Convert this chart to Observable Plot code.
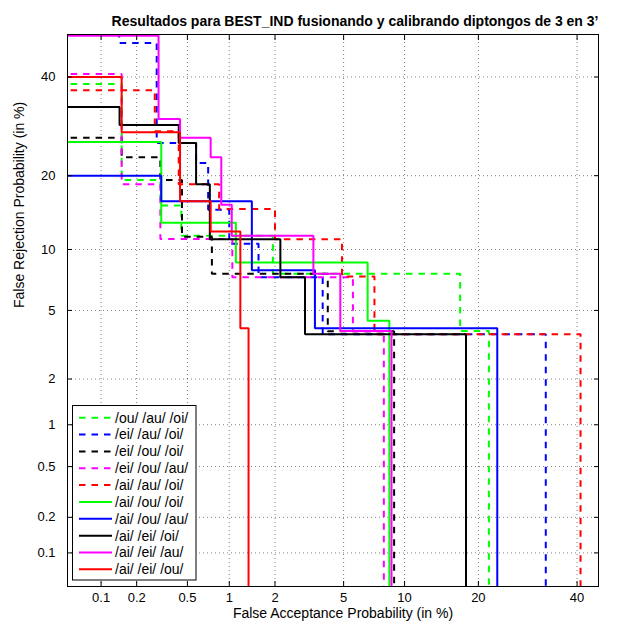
<!DOCTYPE html>
<html>
<head>
<meta charset="utf-8">
<script src="https://cdn.jsdelivr.net/npm/d3@7"></script>
<script src="https://cdn.jsdelivr.net/npm/@observablehq/plot@0.6"></script>
<style>
  html, body { margin: 0; padding: 0; background: #fff; }
  #chart { width: 618px; height: 621px; }
</style>
</head>
<body>
<div id="chart"></div>
<script>
// DET curves: false acceptance (%) vs false rejection (%) on normal-deviate axes.
// Each curve is a list of operating points; the curve steps right then down.
// Values of 0.01 % stand for points beyond the plotted range (clipped).

const names = [
  "/ou/ /au/ /oi/", "/ei/ /au/ /oi/", "/ei/ /ou/ /oi/", "/ei/ /ou/ /au/", "/ai/ /au/ /oi/",
  "/ai/ /ou/ /oi/", "/ai/ /ou/ /au/", "/ai/ /ei/ /oi/", "/ai/ /ei/ /au/", "/ai/ /ei/ /ou/"
];
const colors = ["#00ff00", "#0000ff", "#000000", "#ff00ff", "#ff0000",
                "#00ff00", "#0000ff", "#000000", "#ff00ff", "#ff0000"];
const dashed = [true, true, true, true, true, false, false, false, false, false];

const faOuAuOi   = [0.01, 0.15, 0.31, 0.45, 1.94, 17.1, 21.8];
const missOuAuOi = [38.4, 19.3, 15.4, 11.5, 7.7, 3.86, 0.01];

const faEiAuOi   = [0.01, 0.143, 0.29, 0.58, 0.71, 1.0, 1.57, 3.84, 33];
const missEiAuOi = [60, 48, 25.9, 22.2, 14.8, 10.6, 7.4, 3.7, 0.01];

const faEiOuOi   = [0.01, 0.15, 0.31, 0.455, 0.755, 4.1, 8.95];
const missEiOuOi = [26.9, 23.2, 19.3, 11.4, 7.7, 3.85, 0.01];

const faEiOuAu   = [0.01, 0.15, 0.31, 1.05, 5.6, 8.0];
const missEiOuAu = [40.7, 18.6, 11.15, 7.4, 3.85, 0.01];

const faAiAuOi   = [0.01, 0.28, 0.43, 0.85, 2.0, 4.9, 7.2, 40.8];
const missAiAuOi = [37, 28.2, 18.6, 14.9, 11.1, 7.45, 3.7, 0.01];

const faAiOuOi   = [0.01, 0.315, 1.11, 6.66, 8.5];
const missAiOuOi = [26.1, 13.1, 8.7, 4.4, 0.01];

const faAiOuAu   = [0.01, 0.315, 1.42, 3.47, 23.3];
const missAiOuAu = [20, 16, 8, 4, 0.01];

const faAiEiOi   = [0.01, 0.144, 0.43, 0.58, 0.73, 2.16, 3.04, 18];
const missAiEiOi = [33.3, 29.5, 25.9, 18.6, 11.1, 7.4, 3.7, 0.01];

const faAiEiAu   = [0.01, 0.3, 0.44, 0.74, 0.88, 1.04, 3.4, 4.8, 8.7];
const missAiEiAu = [49.7, 30.7, 26.9, 23.2, 15.5, 11.5, 7.7, 3.86, 0.01];

const faAiEiOu   = [0.01, 0.15, 0.44, 0.74, 1.19, 1.35];
const missAiEiOu = [40, 28, 16, 12, 4, 0.01];

const faList = [faOuAuOi, faEiAuOi, faEiOuOi, faEiOuAu, faAiAuOi, faAiOuOi, faAiOuAu, faAiEiOi, faAiEiAu, faAiEiOu];
const missList = [missOuAuOi, missEiAuOi, missEiOuOi, missEiOuAu, missAiAuOi, missAiOuOi, missAiOuAu, missAiEiOi, missAiEiAu, missAiEiOu];

const tickPct = [0.1, 0.2, 0.5, 1, 2, 5, 10, 20, 40];
const tickLabels = ["0.1", "0.2", "0.5", "1", "2", "5", "10", "20", "40"];

// Inverse of the standard normal CDF (Acklam's rational approximation).
function probit(p) {
  const a = [-3.969683028665376e+01, 2.209460984245205e+02, -2.759285104469687e+02, 1.383577518672690e+02, -3.066479806614716e+01, 2.506628277459239e+00];
  const b = [-5.447609879822406e+01, 1.615858368580409e+02, -1.556989798598866e+02, 6.680131188771972e+01, -1.328068155288572e+01];
  const c = [-7.784894002430293e-03, -3.223964580411365e-01, -2.400758277161838e+00, -2.549732539343734e+00, 4.374664141464968e+00, 2.938163982698783e+00];
  const d = [7.784695709041462e-03, 3.224671290700398e-01, 2.445134137142996e+00, 3.754408661907416e+00];
  const pl = 0.02425, ph = 1 - pl;
  let q, r;
  if (p < pl) {
    q = Math.sqrt(-2 * Math.log(p));
    return (((((c[0]*q + c[1])*q + c[2])*q + c[3])*q + c[4])*q + c[5]) / ((((d[0]*q + d[1])*q + d[2])*q + d[3])*q + 1);
  }
  if (p <= ph) {
    q = p - 0.5; r = q * q;
    return (((((a[0]*r + a[1])*r + a[2])*r + a[3])*r + a[4])*r + a[5])*q / (((((b[0]*r + b[1])*r + b[2])*r + b[3])*r + b[4])*r + 1);
  }
  q = Math.sqrt(-2 * Math.log(1 - p));
  return -(((((c[0]*q + c[1])*q + c[2])*q + c[3])*q + c[4])*q + c[5]) / ((((d[0]*q + d[1])*q + d[2])*q + d[3])*q + 1);
}
const dev = pct => probit(pct / 100);

const tickPos = tickPct.map(dev);
const labelFor = v => tickLabels[tickPos.findIndex(t => Math.abs(t - v) < 1e-9)] ?? "";

const series = names.map((name, i) => ({
  name, color: colors[i], dashed: dashed[i],
  points: faList[i].map((fa, j) => ({fa, miss: missList[i][j]}))
}));

const dashPattern = "6.5,6";
const font = "'Liberation Sans', Arial, Helvetica, sans-serif";

const chart = Plot.plot({
  width: 618,
  height: 621,
  marginLeft: 67,
  marginRight: 20,
  marginTop: 34,
  marginBottom: 35,
  style: {fontFamily: font, fontSize: "14px", background: "#fff", color: "#000", overflow: "visible"},
  x: {domain: [dev(0.05), dev(45)]},
  y: {domain: [dev(0.05), dev(50)]},
  marks: [
    Plot.gridX(tickPos, {stroke: "#000", strokeOpacity: 0.5, strokeDasharray: "1,3"}),
    Plot.gridY(tickPos, {stroke: "#000", strokeOpacity: 0.5, strokeDasharray: "1,3"}),
    ...series.map(s => Plot.line(s.points, {
      x: d => dev(d.fa),
      y: d => dev(d.miss),
      curve: "step-after",
      stroke: s.color,
      strokeWidth: 2,
      strokeDasharray: s.dashed ? dashPattern : null,
      strokeLinejoin: "miter",
      strokeLinecap: "butt",
      clip: true
    })),
    // tick labels
    Plot.axisX(tickPos, {anchor: "bottom", tickSize: 0, tickPadding: 6, tickFormat: labelFor, label: null, fontSize: 13}),
    Plot.axisY(tickPos, {anchor: "left", tickSize: 0, tickPadding: 12, tickFormat: labelFor, label: null, fontSize: 13}),
    // inward tick marks on all four sides
    Plot.axisX(tickPos, {anchor: "bottom", tickSize: 5, dy: -5, tickFormat: () => "", label: null}),
    Plot.axisX(tickPos, {anchor: "top", tickSize: 5, dy: 5, tickFormat: () => "", label: null}),
    Plot.axisY(tickPos, {anchor: "left", tickSize: 5, dx: 5, tickFormat: () => "", label: null}),
    Plot.axisY(tickPos, {anchor: "right", tickSize: 5, dx: -5, tickFormat: () => "", label: null}),
    Plot.frame({stroke: "#000", strokeWidth: 1}),
    // title and axis titles
    Plot.text(["Resultados para BEST_IND fusionando y calibrando diptongos de 3 en 3’"], {
      frameAnchor: "top", dx: 22, dy: -12.5, lineAnchor: "middle", fontWeight: "bold", fontSize: 14
    }),
    Plot.text(["False Acceptance Probability (in %)"], {
      frameAnchor: "bottom", dx: 10, dy: 27, lineAnchor: "middle", fontSize: 14
    }),
    Plot.text(["False Rejection Probability (in %)"], {
      frameAnchor: "left", dx: -48, dy: -2.5, rotate: -90, lineAnchor: "middle", fontSize: 14
    })
  ]
});

// Legend box inside the lower-left corner of the axes
const svg = d3.select(chart);
const legend = svg.append("g")
  .attr("font-family", font)
  .attr("font-size", 14)
  .attr("text-anchor", "start");
const lx = 72.5, ly = 405.5, lw = 123.5, lh = 174.5, rowGap = 16.85;
legend.append("rect")
  .attr("x", lx).attr("y", ly).attr("width", lw).attr("height", lh)
  .attr("fill", "#fff").attr("stroke", "#000").attr("stroke-width", 1);
series.forEach((s, i) => {
  const cy = 417.7 + i * rowGap;
  legend.append("line")
    .attr("x1", 79).attr("x2", 112).attr("y1", cy).attr("y2", cy)
    .attr("stroke", s.color).attr("stroke-width", 2)
    .attr("stroke-dasharray", s.dashed ? dashPattern : null);
  legend.append("text")
    .attr("x", 115).attr("y", cy).attr("dy", "0.35em")
    .attr("text-anchor", "start")
    .attr("fill", "#000")
    .text(s.name);
});

document.getElementById("chart").appendChild(chart);
</script>
</body>
</html>
